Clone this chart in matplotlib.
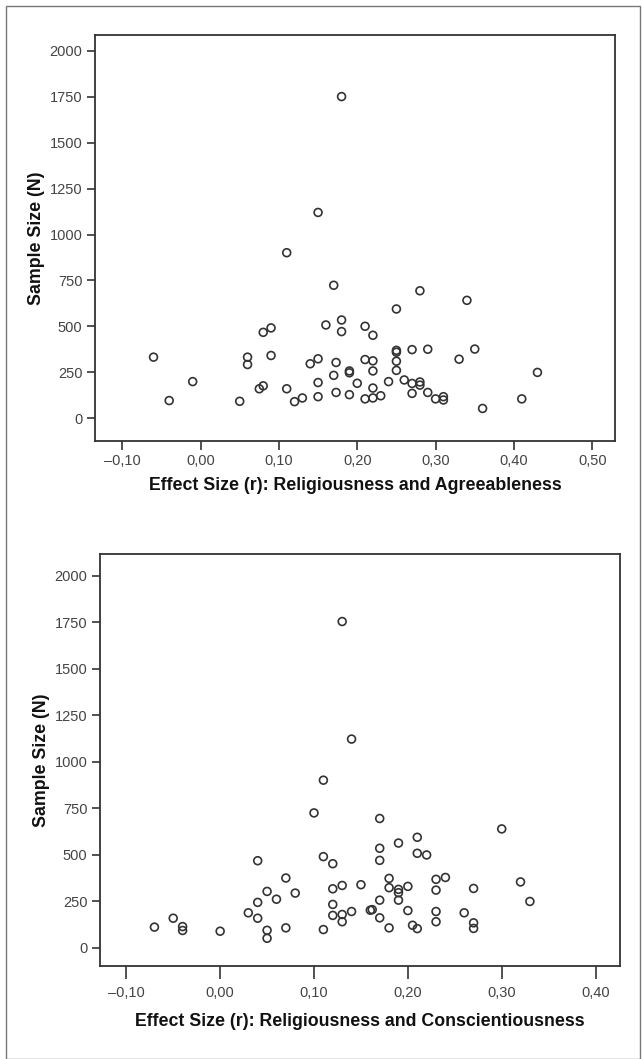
import matplotlib
matplotlib.use("Agg")
import matplotlib.pyplot as plt
from matplotlib.patches import Rectangle

plt.rcParams["font.family"] = ["Liberation Sans", "DejaVu Sans"]

# top panel: religiousness and agreeableness
agree_r = [-0.06, -0.04, -0.01, 0.05, 0.06, 0.06, 0.08, 0.09, 0.09, 0.075, 0.08,
           0.11, 0.12, 0.13, 0.14, 0.15, 0.15, 0.15, 0.16, 0.173, 0.17, 0.173,
           0.18, 0.18, 0.25, 0.34, 0.21, 0.22, 0.25, 0.25, 0.27, 0.29, 0.35,
           0.33, 0.21, 0.22, 0.25, 0.25, 0.19, 0.19, 0.22, 0.20, 0.24, 0.26,
           0.27, 0.28, 0.28, 0.22, 0.43, 0.19, 0.21, 0.22, 0.23, 0.27, 0.29,
           0.30, 0.31, 0.31, 0.36, 0.41, 0.15, 0.11, 0.17, 0.28, 0.18]
agree_n = [333, 97, 200, 93, 333, 293, 468, 492, 342, 161, 177,
           161, 91, 111, 297, 324, 195, 118, 508, 304, 234, 141,
           535, 472, 595, 642, 501, 452, 370, 360, 374, 376, 377,
           322, 320, 313, 311, 261, 258, 248, 258, 191, 200, 209,
           190, 198, 181, 165, 250, 129, 106, 111, 123, 136, 141,
           106, 118, 100, 54, 106, 1120, 901, 724, 694, 1750]

# bottom panel: religiousness and conscientiousness
consc_r = [-0.07, -0.05, -0.04, -0.04, 0.00, 0.03, 0.04, 0.04, 0.04, 0.05, 0.05,
           0.05, 0.06, 0.07, 0.07, 0.08, 0.10, 0.11, 0.11, 0.11, 0.12, 0.12,
           0.12, 0.12, 0.13, 0.13, 0.13, 0.13, 0.14, 0.14, 0.15, 0.16, 0.162,
           0.17, 0.17, 0.17, 0.17, 0.17, 0.18, 0.18, 0.18, 0.19, 0.19, 0.19,
           0.19, 0.20, 0.20, 0.205, 0.21, 0.21, 0.21, 0.22, 0.23, 0.23, 0.23,
           0.23, 0.24, 0.26, 0.27, 0.27, 0.27, 0.30, 0.32, 0.33]
consc_n = [112, 160, 115, 94, 90, 189, 160, 469, 245, 304, 95,
           52, 262, 376, 108, 295, 726, 902, 491, 99, 453, 318,
           234, 175, 1755, 336, 180, 141, 1123, 196, 340, 203, 206,
           696, 536, 471, 257, 162, 374, 324, 108, 564, 315, 297,
           257, 331, 201, 122, 595, 509, 104, 500, 369, 311, 196,
           141, 379, 189, 320, 135, 105, 640, 355, 250]

y_ticks = [0, 250, 500, 750, 1000, 1250, 1500, 1750, 2000]
top_x_ticks = [-0.1, 0.0, 0.1, 0.2, 0.3, 0.4, 0.5]
bot_x_ticks = [-0.1, 0.0, 0.1, 0.2, 0.3, 0.4]


def tick_text(v):
    s = "%.2f" % v
    s = s.replace(".", ",").replace("-", "\u2013")
    return s


fig = plt.figure(figsize=(6.42, 10.59), dpi=100)

# thin frame around the whole picture
fig.patches.append(Rectangle((6 / 642, 0.0), 634 / 642, 1053 / 1059,
                             transform=fig.transFigure, fill=False,
                             edgecolor="#777777", linewidth=1.0))

ax1 = fig.add_axes([95 / 642, 1 - 441 / 1059, 520 / 642, 406 / 1059])
ax2 = fig.add_axes([100 / 642, 1 - 966 / 1059, 520 / 642, 412 / 1059])

panels = [
    (ax1, agree_r, agree_n, top_x_ticks, (-0.1347, 0.529), (-123, 2085),
     "Effect Size (r): Religiousness and Agreeableness", 6.5, 3, 6),
    (ax2, consc_r, consc_n, bot_x_ticks, (-0.128, 0.426), (-97, 2118),
     "Effect Size (r): Religiousness and Conscientiousness", 9.5, 5, 9),
]

for ax, xs, ys, xt, xlim, ylim, label, xlen, xpad, lpad in panels:
    ax.scatter(xs, ys, s=32, facecolors="none", edgecolors="#333333",
               linewidths=1.2, zorder=3)
    ax.set_xlim(*xlim)
    ax.set_ylim(*ylim)
    ax.set_xticks(xt)
    ax.set_xticklabels([tick_text(v) for v in xt])
    ax.set_yticks(y_ticks)
    ax.set_yticklabels([str(v) for v in y_ticks])
    ax.tick_params(direction="out", length=6, width=1.2, color="#333333",
                   labelsize=10.5, labelcolor="#444444", pad=3)
    ax.tick_params(axis="x", length=xlen, pad=xpad)
    for sp in ax.spines.values():
        sp.set_linewidth(1.3)
        sp.set_color("#333333")
    ax.set_xlabel(label, fontsize=12.8, fontweight="bold", color="#111111",
                  labelpad=lpad)
    ax.set_ylabel("Sample Size (N)", fontsize=12.8, fontweight="bold",
                  color="#111111", labelpad=3)

plt.savefig("out.png", dpi=100)
